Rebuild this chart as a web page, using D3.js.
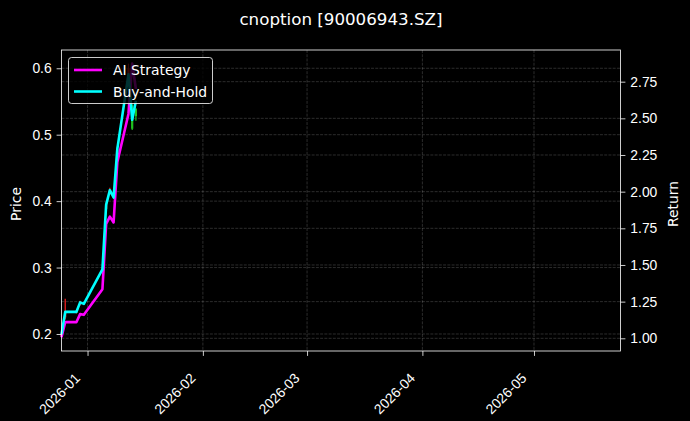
<!DOCTYPE html>
<html>
<head>
<meta charset="utf-8">
<script src="https://cdn.jsdelivr.net/npm/d3@7"></script>
<style>
  html, body { margin: 0; padding: 0; background: #000; }
  svg { display: block; font-family: "DejaVu Sans", sans-serif; }
</style>
</head>
<body>
<svg id="chart" width="690" height="421"></svg>
<script>
// ---- data ----
const dates = ["2025-12-25","2025-12-26","2025-12-29","2025-12-30","2025-12-31",
  "2026-01-05","2026-01-06","2026-01-07","2026-01-08","2026-01-09",
  "2026-01-12","2026-01-13","2026-01-14"];
const aiStrategy = [1.007, 1.11, 1.11, 1.165, 1.16, 1.335, 1.78, 1.83, 1.79, 2.20, 2.53, 2.873, 2.70];
const buyHold    = [1.027, 1.18, 1.18, 1.245, 1.235, 1.47, 1.91, 2.01, 1.96, 2.29, 2.80, 2.49, 2.62];
const openP  = [0.197, 0.225, 0.232, 0.244, 0.247, 0.294, 0.388, 0.412, 0.409, 0.472, 0.580, 0.544, 0.539];
const highP  = [0.203, 0.253, 0.236, 0.250, 0.248, 0.300, 0.398, 0.420, 0.411, 0.482, 0.607, 0.546, 0.540];
const lowP   = [0.195, 0.222, 0.231, 0.243, 0.244, 0.293, 0.386, 0.410, 0.404, 0.470, 0.576, 0.507, 0.521];
const closeP = [0.200, 0.234, 0.234, 0.248, 0.245, 0.298, 0.395, 0.417, 0.406, 0.478, 0.600, 0.509, 0.528];
const xTickLabels = ["2026-01","2026-02","2026-03","2026-04","2026-05"];
const priceTicks = [0.2, 0.3, 0.4, 0.5, 0.6];
const returnTicks = [1.00, 1.25, 1.50, 1.75, 2.00, 2.25, 2.50, 2.75];
const seriesNames = ["AI Strategy", "Buy-and-Hold"];
const seriesColors = ["#ff00ff", "#00ffff"];
const titleText = "cnoption [90006943.SZ]";

// ---- layout ----
const svg = d3.select("#chart");
const L = 61.5, R = 620.5, T = 50, B = 351;
const parse = d3.utcParse("%Y-%m-%d");
const parseM = d3.utcParse("%Y-%m");
const x = d3.scaleUtc().domain([parse("2025-12-25"), new Date(Date.UTC(2026,4,24,6))]).range([L, R]);
const yP = d3.scaleLinear().domain([0.1744, 0.6275]).range([B, T]);
const yR = d3.scaleLinear().domain([0.9134, 2.966]).range([B, T]);

svg.append("rect").attr("width", 690).attr("height", 421).attr("fill", "#000");

const grid = svg.append("g").attr("stroke", "#ffffff").attr("stroke-opacity", 0.22)
  .attr("stroke-width", 0.8).attr("stroke-dasharray", "2.96,1.28");
xTickLabels.forEach(t => {
  grid.append("line").attr("x1", x(parseM(t))).attr("x2", x(parseM(t))).attr("y1", T).attr("y2", B);
});
priceTicks.forEach(t => {
  grid.append("line").attr("x1", L).attr("x2", R).attr("y1", yP(t)).attr("y2", yP(t));
});
returnTicks.forEach(t => {
  grid.append("line").attr("x1", L).attr("x2", R).attr("y1", yR(t)).attr("y2", yR(t));
});

// candles
const candles = svg.append("g");
const cw = 2.2;
dates.forEach((d, i) => {
  const cx = x(parse(d));
  const col = closeP[i] >= openP[i] ? "#ff2020" : "#20c020";
  candles.append("line").attr("x1", cx).attr("x2", cx)
    .attr("y1", yP(highP[i])).attr("y2", yP(lowP[i])).attr("stroke", col).attr("stroke-width", 1.2);
  const y0 = yP(Math.max(openP[i], closeP[i])), y1 = yP(Math.min(openP[i], closeP[i]));
  candles.append("rect").attr("x", cx - cw / 2).attr("width", cw)
    .attr("y", y0).attr("height", Math.max(0.8, y1 - y0)).attr("fill", col);
});

// lines
const series = [aiStrategy, buyHold];
series.forEach((vals, si) => {
  const line = d3.line().x((v, i) => x(parse(dates[i]))).y(v => yR(v));
  svg.append("path").datum(vals).attr("d", line).attr("fill", "none")
    .attr("stroke", seriesColors[si]).attr("stroke-width", 2.6).attr("stroke-linejoin", "round");
});

// axes
const fs = 13.9;
const xAxis = d3.axisBottom(x).tickValues(xTickLabels.map(parseM)).tickFormat(d3.utcFormat("%Y-%m"))
  .tickSize(4.9).tickPadding(4.9);
const gx = svg.append("g").attr("transform", `translate(0,${B})`).call(xAxis);
gx.selectAll("text").attr("font-size", fs).attr("fill", "#fff").attr("text-anchor", "end")
  .attr("dy", null).attr("y", 0)
  .attr("transform", "translate(-7,28) rotate(-45)");
const gl = svg.append("g").attr("transform", `translate(${L},0)`)
  .call(d3.axisLeft(yP).tickValues(priceTicks).tickFormat(d3.format(".1f")).tickSize(4.9).tickPadding(4.9));
gl.selectAll("text").attr("font-size", fs).attr("fill", "#fff");
const gr = svg.append("g").attr("transform", `translate(${R},0)`)
  .call(d3.axisRight(yR).tickValues(returnTicks).tickFormat(d3.format(".2f")).tickSize(4.9).tickPadding(4.9));
gr.selectAll("text").attr("font-size", fs).attr("fill", "#fff");
[gx, gl, gr].forEach(g => {
  g.select(".domain").remove();
  g.selectAll("line").attr("stroke", "#fff").attr("stroke-width", 0.8);
});
svg.append("rect").attr("x", L).attr("y", T).attr("width", R - L).attr("height", B - T)
  .attr("fill", "none").attr("stroke", "#fff").attr("stroke-width", 0.8);

// axis labels
svg.append("text").attr("transform", `translate(21,204) rotate(-90)`)
  .attr("text-anchor", "middle").attr("fill", "#fff").attr("font-size", fs).text("Price");
svg.append("text").attr("transform", `translate(678,204) rotate(-90)`)
  .attr("text-anchor", "middle").attr("fill", "#fff").attr("font-size", fs).text("Return");

// title
svg.append("text").attr("x", (L + R) / 2).attr("y", 25).attr("text-anchor", "middle")
  .attr("fill", "#fff").attr("font-size", 16.7).text(titleText);

// legend
const lg = svg.append("g");
lg.append("rect").attr("x", 68.5).attr("y", 57.5).attr("width", 144).attr("height", 46)
  .attr("rx", 3).attr("fill", "#000").attr("fill-opacity", 0.8)
  .attr("stroke", "#fff").attr("stroke-opacity", 0.8).attr("stroke-width", 1);
seriesNames.forEach((n, i) => {
  const cy = 70 + i * 21.5;
  lg.append("line").attr("x1", 74).attr("x2", 102).attr("y1", cy).attr("y2", cy)
    .attr("stroke", seriesColors[i]).attr("stroke-width", 2.6);
  lg.append("text").attr("x", 113).attr("y", cy + 5).attr("fill", "#fff").attr("font-size", fs).text(n);
});
</script>
</body>
</html>
